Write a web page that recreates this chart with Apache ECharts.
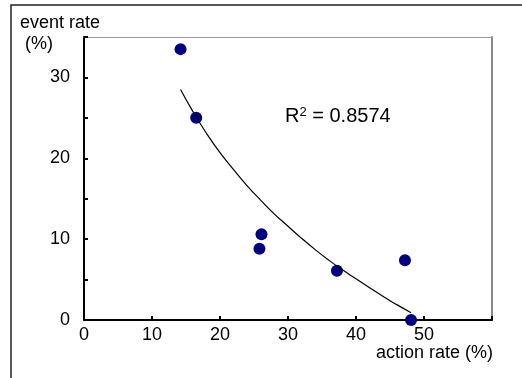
<!DOCTYPE html>
<html>
<head>
<meta charset="utf-8">
<script src="https://cdn.jsdelivr.net/npm/echarts@6/dist/echarts.min.js"></script>
<style>
html,body{margin:0;padding:0;background:#fff;}
#chart{width:522px;height:378px;}
</style>
</head>
<body>
<div id="chart"></div>
<script>
// Observed points
const actionRate = [14.2, 16.5, 26.1, 25.8, 37.2, 47.2, 48.1];
const eventRate  = [33.5, 25.0, 10.6, 8.8, 6.1, 7.4, 0.0];
// Trend line
const trendX = [14.2, 16, 18, 20, 22, 24, 26, 28, 30, 32, 34, 36, 38, 40, 42, 44, 46, 48.1];
const trendY = [28.5, 25.8, 23.1, 20.7, 18.6, 16.6, 14.8, 13.1, 11.6, 10.1, 8.7, 7.4, 6.2, 5.1, 4.0, 2.9, 1.9, 0.9];
// Axis labels
const xTickLabels = ['0', '10', '20', '30', '40', '50'];
const yTickLabels = ['0', '10', '20', '30'];
const xName = 'action rate (%)';
const yName = 'event rate\n (%)';
const r2Base = 'R';
const r2Sup = '2';
const r2Rest = ' = 0.8574';

const FONT = '"Liberation Sans", Arial, sans-serif';
const chart = echarts.init(document.getElementById('chart'), null, {renderer: 'canvas'});

const points = actionRate.map((x, i) => [x, eventRate[i]]);
const trend = trendX.map((x, i) => [x, trendY[i]]);

chart.setOption({
  animation: false,
  backgroundColor: '#fff',
  grid: {left: 84, top: 37, right: 30, bottom: 58, show: false},
  xAxis: [{
    type: 'value', min: 0, max: 60, interval: 10,
    axisLine: {show: true, lineStyle: {color: '#000', width: 2}},
    axisTick: {show: true, inside: true, length: 4, lineStyle: {color: '#000', width: 2}},
    axisLabel: {
      margin: 6, color: '#000', fontFamily: FONT, fontSize: 18,
      formatter: v => xTickLabels.includes(String(v)) ? String(v) : ''
    },
    splitLine: {show: false}
  }, {
    type: 'value', position: 'top', min: 0, max: 60,
    axisLine: {show: true, onZero: false, lineStyle: {color: '#999', width: 1}},
    axisTick: {show: false}, axisLabel: {show: false}, splitLine: {show: false}
  }],
  yAxis: [{
    type: 'value', min: 0, max: 35, interval: 5,
    axisLine: {show: true, lineStyle: {color: '#000', width: 2}},
    axisTick: {show: true, inside: true, length: 4, lineStyle: {color: '#000', width: 2}},
    axisLabel: {
      margin: 14, color: '#000', fontFamily: FONT, fontSize: 18,
      formatter: v => yTickLabels.includes(String(v)) ? String(v) : ''
    },
    splitLine: {show: false}
  }, {
    type: 'value', position: 'right', min: 0, max: 35,
    axisLine: {show: true, onZero: false, lineStyle: {color: '#888', width: 2}},
    axisTick: {show: false}, axisLabel: {show: false}, splitLine: {show: false}
  }],
  series: [{
    type: 'scatter',
    data: points,
    symbol: 'circle',
    symbolSize: 12,
    itemStyle: {color: '#000080', opacity: 1},
    z: 3
  }, {
    type: 'line',
    data: trend,
    smooth: true,
    showSymbol: false,
    lineStyle: {color: '#000', width: 1.2},
    z: 4
  }],
  graphic: [{
    type: 'rect',
    shape: {x: 11, y: 5, width: 620, height: 500},
    style: {fill: 'none', stroke: '#222', lineWidth: 1.5},
    silent: true
  }, {
    type: 'text', x: 20, y: 13,
    style: {text: yName, font: '18px ' + FONT, fill: '#000', textAlign: 'left', textVerticalAlign: 'top', lineHeight: 21}
  }, {
    type: 'text', x: 493, y: 353,
    style: {text: xName, font: '18px ' + FONT, fill: '#000', textAlign: 'right', textVerticalAlign: 'middle'}
  }, {
    type: 'text', x: 285, y: 116,
    style: {
      text: '{b|' + r2Base + '}{s|' + r2Sup + '}{b|' + r2Rest + '}',
      fill: '#000', textAlign: 'left', textVerticalAlign: 'middle',
      rich: {
        b: {fontSize: 20, fontFamily: FONT, fill: '#000', lineHeight: 20},
        s: {fontSize: 13, fontFamily: FONT, fill: '#000', verticalAlign: 'top', lineHeight: 13}
      }
    }
  }]
});
</script>
</body>
</html>
